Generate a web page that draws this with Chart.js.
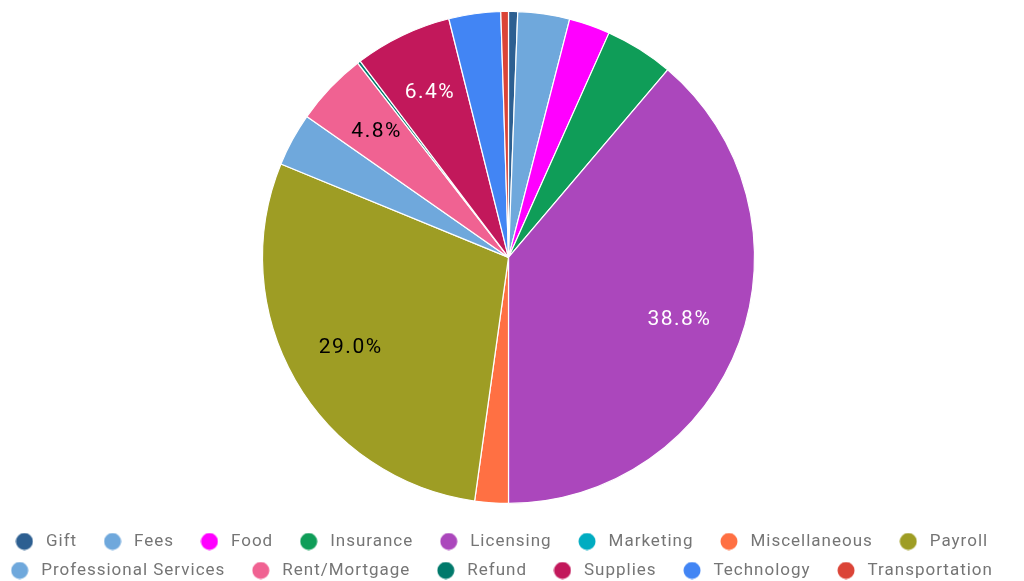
<!DOCTYPE html>
<html>
<head>
<meta charset="utf-8">
<script src="https://cdn.jsdelivr.net/npm/chart.js@4"></script>
<style>
  html, body { margin: 0; padding: 0; background: #fff; }
  #wrap { width: 1024px; height: 581px; }
</style>
</head>
<body>
<div id="wrap"><canvas id="myChart"></canvas></div>
<script>
// categories + share of spend (%)
const categories = ['Gift', 'Fees', 'Food', 'Insurance', 'Licensing', 'Marketing', 'Miscellaneous',
  'Payroll', 'Professional Services', 'Rent/Mortgage', 'Refund', 'Supplies', 'Technology', 'Transportation'];
const shares = [0.6, 3.4, 2.7, 4.5, 38.8, 0, 2.2, 29.0, 3.5, 4.8, 0.2, 6.4, 3.4, 0.5];
const sliceColors = ['#2d5f91', '#6fa8dc', '#ff00ff', '#0f9d58', '#ab47bc', '#00acc1', '#ff7043',
  '#9e9d24', '#6fa8dc', '#f06292', '#00796b', '#c2185b', '#4285f4', '#db4437'];
const labelColors = ['#fff', '#000', '#000', '#fff', '#fff', '#000', '#000',
  '#000', '#000', '#000', '#fff', '#fff', '#fff', '#fff'];
const labelMin = 4.7;

// little round legend markers (canvas point styles so the item can be wider than the dot)
function makeDot(color) {
  const c = document.createElement('canvas');
  c.width = 18; c.height = 18;
  const g = c.getContext('2d');
  g.fillStyle = color;
  g.beginPath();
  g.arc(9, 9, 8.5, 0, Math.PI * 2);
  g.fill();
  return c;
}
const dots = sliceColors.map(makeDot);

// the reference text is a bit wider than plain Roboto
const spacing = {
  id: 'spacing',
  beforeUpdate(chart) { chart.ctx.letterSpacing = '1px'; },
  beforeDraw(chart) { chart.ctx.letterSpacing = '1px'; }
};

// draws the % text inside the bigger slices
const sliceLabels = {
  id: 'sliceLabels',
  afterDatasetsDraw(chart) {
    const ctx = chart.ctx;
    const meta = chart.getDatasetMeta(0);
    ctx.save();
    ctx.letterSpacing = '1.5px';
    ctx.font = '21px Roboto';
    ctx.textAlign = 'center';
    ctx.textBaseline = 'middle';
    meta.data.forEach((arc, i) => {
      if (shares[i] < labelMin) return;
      const mid = (arc.startAngle + arc.endAngle) / 2;
      const r = arc.outerRadius * 0.74;
      ctx.fillStyle = labelColors[i];
      ctx.fillText(shares[i].toFixed(1) + '%', arc.x + Math.cos(mid) * r, arc.y + Math.sin(mid) * r);
    });
    ctx.restore();
  }
};

const ctx = document.getElementById('myChart').getContext('2d');
const chart = new Chart(ctx, {
  type: 'pie',
  data: {
    labels: categories,
    datasets: [{
      data: shares,
      backgroundColor: sliceColors,
      borderColor: '#fff',
      borderWidth: 1.2,
      radius: 246
    }]
  },
  options: {
    responsive: true,
    maintainAspectRatio: false,
    animation: false,
    layout: { padding: { top: 0, bottom: -8, left: -7, right: 7 } },
    plugins: {
      tooltip: { enabled: false },
      legend: {
        position: 'bottom',
        // empty title only adds a little room above the rows
        title: { display: true, text: ' ', font: { size: 1 }, padding: 2.5 },
        labels: {
          usePointStyle: true,
          pointStyleWidth: 26,
          padding: 12,
          color: '#757575',
          font: { family: 'Roboto', size: 17 },
          generateLabels(chart) {
            const items = Chart.controllers.doughnut.overrides.plugins.legend.labels.generateLabels(chart);
            return items.map((it, i) => Object.assign(it, { pointStyle: dots[i], text: it.text + '  ' }));
          }
        }
      }
    }
  },
  plugins: [spacing, sliceLabels]
});
</script>
</body>
</html>
